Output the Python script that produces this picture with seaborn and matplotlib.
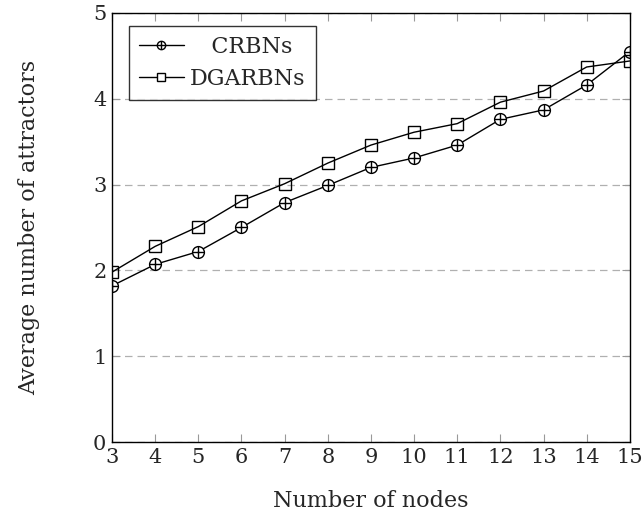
import numpy as np
import pandas as pd
import matplotlib
matplotlib.use('Agg')
import matplotlib.pyplot as plt
import seaborn as sns
from matplotlib.lines import Line2D

nodes = list(range(3, 16))
crbns = [1.82, 2.07, 2.22, 2.50, 2.79, 2.99, 3.20, 3.31, 3.46, 3.76, 3.87, 4.16, 4.55]
dgarbns = [1.98, 2.28, 2.51, 2.81, 3.01, 3.25, 3.46, 3.61, 3.71, 3.96, 4.09, 4.37, 4.44]

df = pd.DataFrame({'nodes': nodes, 'CRBNs': crbns, 'DGARBNs': dgarbns})

sns.set_style('ticks')
plt.rcParams['font.family'] = ['DejaVu Serif']

fig = plt.figure(figsize=(6.42, 5.17), dpi=100)
ax = fig.add_axes([0.1745, 0.145, 0.8065, 0.83])

# CRBNs: circle + plus overlay
sns.lineplot(data=df, x='nodes', y='CRBNs', ax=ax, color='black', lw=1,
             marker='o', markersize=8.5, markerfacecolor='white',
             markeredgecolor='black', markeredgewidth=1)
ax.plot(df['nodes'], df['CRBNs'], ls='none', marker='+', markersize=8.5,
        color='black', markeredgewidth=1)
sns.lineplot(data=df, x='nodes', y='DGARBNs', ax=ax, color='black', lw=1,
             marker='s', markersize=8, markerfacecolor='none',
             markeredgecolor='black', markeredgewidth=1)

ax.set_xlim(3, 15)
ax.set_ylim(0, 5)
ax.set_xticks(nodes)
ax.set_yticks([0, 1, 2, 3, 4, 5])
ax.yaxis.grid(True, ls=(0, (6, 4)), color='#b0b0b0', lw=0.9)
ax.tick_params(direction='in', length=6, width=0.8, color='#999999',
               labelsize=15, top=True, right=True, pad=4)
for s in ax.spines.values():
    s.set_linewidth(1)
    s.set_color('black')

ax.set_xlabel('Number of nodes', fontsize=16, labelpad=17)
ax.set_ylabel('Average number of attractors', fontsize=16, labelpad=38)

h1 = (Line2D([], [], color='black', lw=1, marker='o', markersize=6,
             markerfacecolor='white', markeredgecolor='black'),
      Line2D([], [], ls='none', color='black', marker='+', markersize=6))
h2 = Line2D([], [], color='black', lw=1, marker='s', markersize=5.5,
            markerfacecolor='white', markeredgecolor='black')
leg = ax.legend([h1, h2], ['   CRBNs', 'DGARBNs'], loc='upper left',
                bbox_to_anchor=(0.033, 0.97), borderaxespad=0,
                fontsize=16, frameon=True, fancybox=False, edgecolor='black',
                handlelength=2.0, borderpad=0.45, labelspacing=0.45,
                handletextpad=0.3)
leg.get_frame().set_linewidth(1)

fig.savefig('out.png', dpi=100)
